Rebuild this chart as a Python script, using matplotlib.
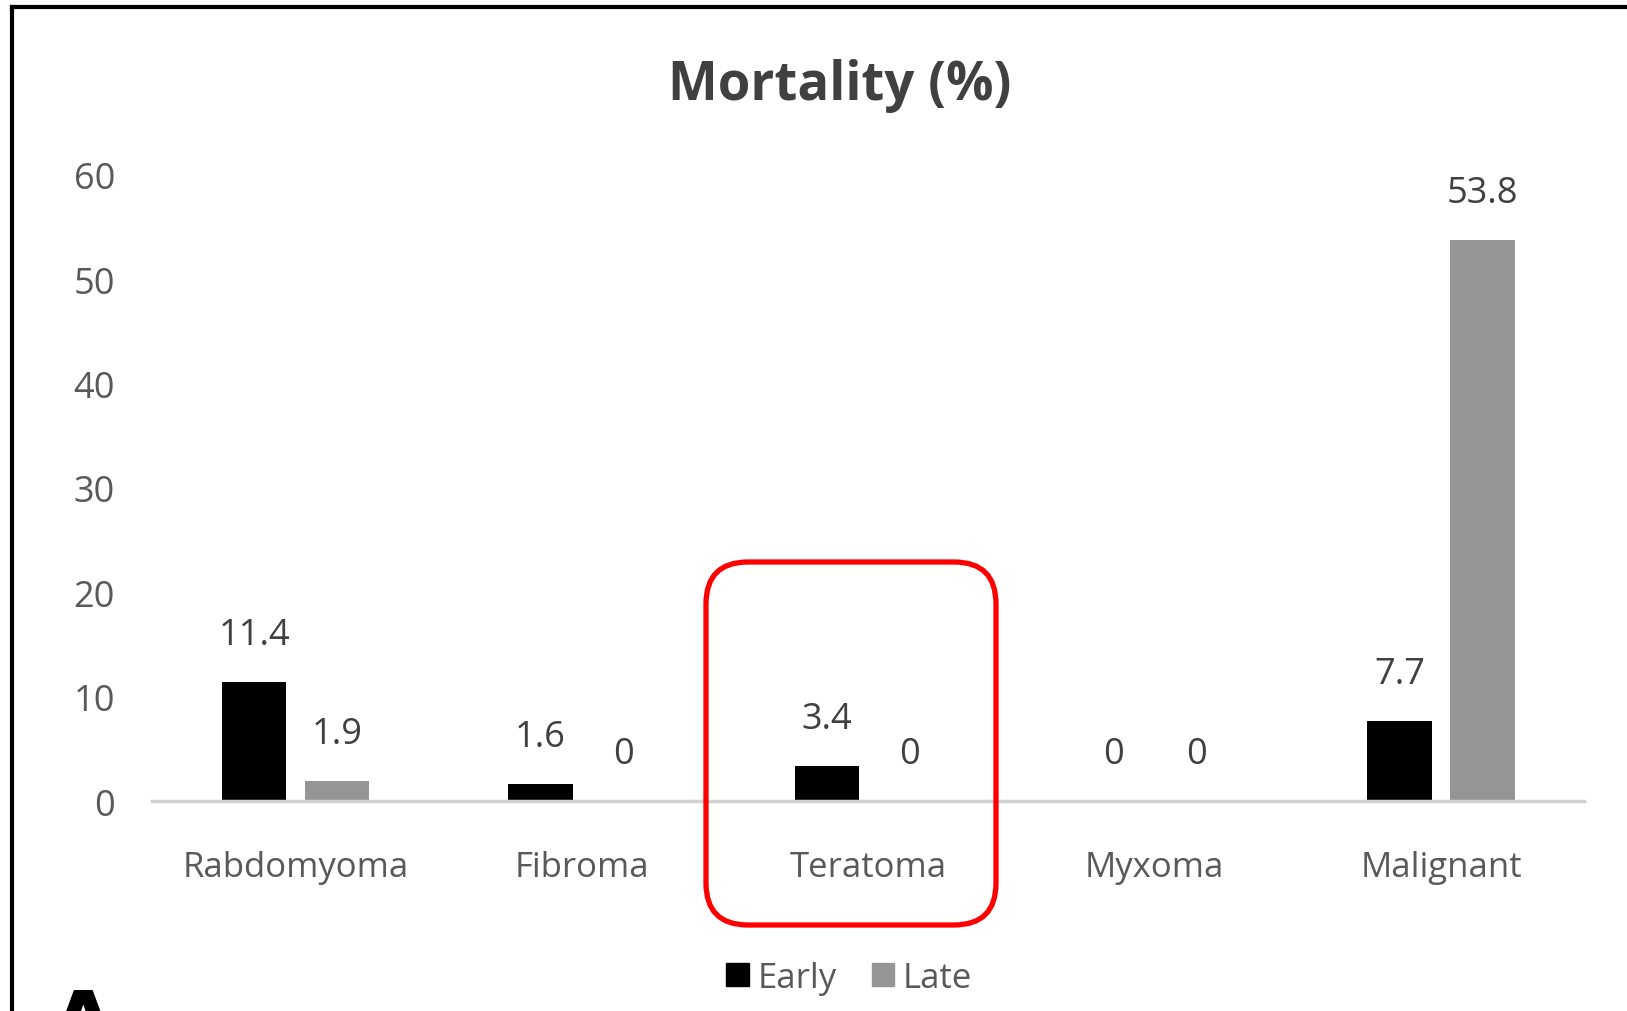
## Mortality (%) by tumour type - early vs late

import numpy as np
import matplotlib.pyplot as plt
from matplotlib.patches import Patch, FancyBboxPatch
from matplotlib.lines import Line2D
from matplotlib.transforms import IdentityTransform

## Data
categories = ['Rabdomyoma', 'Fibroma', 'Teratoma', 'Myxoma', 'Malignant']
early = [11.4, 1.6, 3.4, 0, 7.7]
late = [1.9, 0, 0, 0, 53.8]
yticks = [0, 10, 20, 30, 40, 50, 60]

plt.rcParams['font.family'] = ['Open Sans', 'DejaVu Sans']

fig = plt.figure(figsize=(16.27, 10.12), dpi=100)
ax = fig.add_axes([0.0937, 0.2075, 0.880, 0.6186])

x = np.arange(len(categories))
w = 0.225
off = 0.145
b1 = ax.bar(x - off, early, w, color='black', label='Early')
b2 = ax.bar(x + off, late, w, color='#959595', label='Late')

## value labels above each bar
for bars, vals in [(b1, early), (b2, late)]:
    for bar, v in zip(bars, vals):
        ax.annotate(f'{v:g}', (bar.get_x() + bar.get_width() / 2, v),
                    xytext=(0, 47), textcoords='offset pixels',
                    ha='center', va='center', fontsize=26, color='#404040')

ax.set_xlim(-0.5, len(categories) - 0.5)
ax.set_ylim(0, 60)
ax.set_yticks(yticks)
ax.set_xticks(x)
ax.set_xticklabels(categories)
ax.tick_params(axis='y', length=0, pad=27, labelsize=26, labelcolor='#595959')
ax.tick_params(axis='x', length=0, pad=35, labelsize=25, labelcolor='#595959')
for s in ['top', 'right', 'left']:
    ax.spines[s].set_visible(False)
ax.spines['bottom'].set_color('#d0d0d0')
ax.spines['bottom'].set_linewidth(2.5)

fig.text(0.516, 1 - 86 / 1012, 'Mortality (%)', ha='center', va='center',
         fontsize=38, fontweight='bold', color='#404040')

handles = [Patch(color='black', label='Early'), Patch(color='#959595', label='Late')]
fig.legend(handles=handles, loc='center', bbox_to_anchor=(0.522, 1 - 979 / 1012),
           ncol=2, frameon=False, fontsize=25, labelcolor='#595959',
           handlelength=0.65, handleheight=0.65, handletextpad=0.25,
           columnspacing=1.0)

## red rounded box around Teratoma
box = FancyBboxPatch((746, 1012 - 886), 210, 283,
                     boxstyle='round,pad=40,rounding_size=42',
                     transform=IdentityTransform(), fill=False,
                     edgecolor='#ff0000', linewidth=3.8)
fig.patches.append(box)

## black frame left and top (picture is cropped)
fig.add_artist(Line2D([12 / 1627, 12 / 1627], [0, 1 - 8 / 1012], color='black', lw=3))
fig.add_artist(Line2D([12 / 1627, 1], [1 - 8 / 1012, 1 - 8 / 1012], color='black', lw=3))

## panel letter, cut off by the bottom edge
fig.text(83 / 1627, 1 - 987 / 1012, 'A', ha='center', va='top',
         fontsize=60, fontweight='bold', color='black', family='DejaVu Sans')

fig.savefig('out.png', dpi=100)
